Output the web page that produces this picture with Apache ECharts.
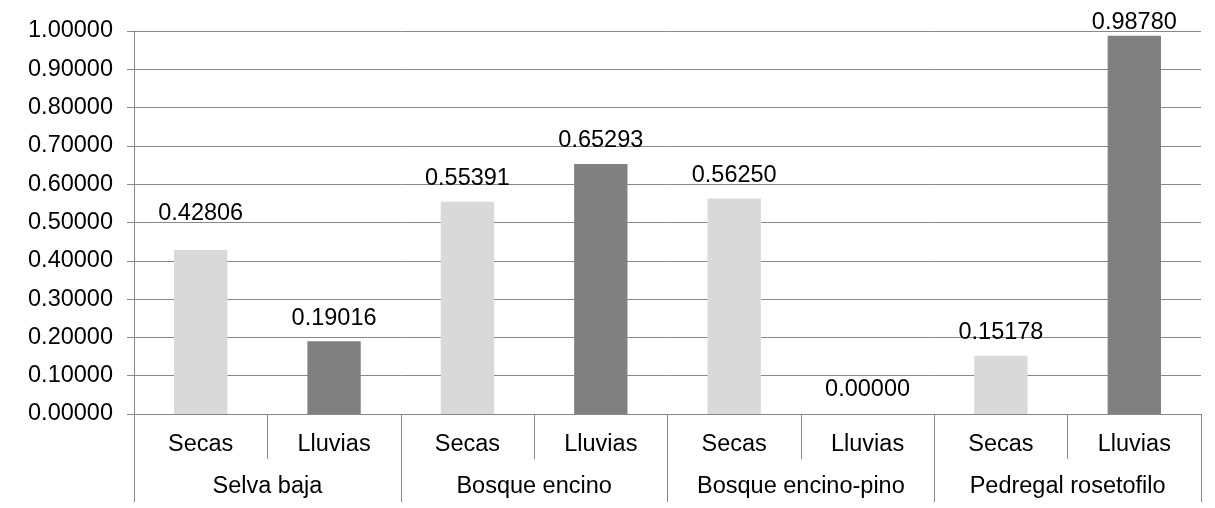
<!DOCTYPE html>
<html>
<head>
<meta charset="utf-8">
<script src="https://cdn.jsdelivr.net/npm/echarts@6/dist/echarts.min.js"></script>
<style>
  html, body { margin: 0; padding: 0; background: #fff; }
  #chart { width: 1215px; height: 508px; }
</style>
</head>
<body>
<div id="chart"></div>
<script>
// habitat groups and season labels
var habitats = ['Selva baja', 'Bosque encino', 'Bosque encino-pino', 'Pedregal rosetofilo'];
var seasons = ['Secas', 'Lluvias'];
// values per habitat
var secas = [0.42806, 0.55391, 0.56250, 0.15178];
var lluvias = [0.19016, 0.65293, 0.00000, 0.98780];
var yTicks = { min: 0, max: 1, interval: 0.1 };

var seasonColors = { Secas: '#d9d9d9', Lluvias: '#808080' };
var lineColor = '#888888';
var font = "'Liberation Sans', Arial, sans-serif";
var fs = 23.5;

// label gap above bar; the original moved two labels by hand
var secasGap = [25, 11, 11, 11];
var lluviasGap = [11, 11, 12, 1];

// flatten to the 8 bars (season within habitat)
var cats = [], vals = [];
habitats.forEach(function (h, i) {
  cats.push(seasons[0]);
  vals.push({ value: secas[i], itemStyle: { color: seasonColors.Secas }, label: { distance: secasGap[i] } });
  cats.push(seasons[1]);
  vals.push({ value: lluvias[i], itemStyle: { color: seasonColors.Lluvias }, label: { distance: lluviasGap[i] } });
});

var chart = echarts.init(document.getElementById('chart'));
chart.setOption({
  animation: false,
  textStyle: { fontFamily: font },
  grid: { left: 134, right: 14, top: 31, bottom: 94, containLabel: false },
  xAxis: [{
    type: 'category', data: cats, position: 'bottom',
    axisLine: { show: true, lineStyle: { color: lineColor, width: 1 } },
    axisTick: { show: true, interval: 0, length: 45, lineStyle: { color: lineColor } },
    axisLabel: { interval: 0, color: '#000', fontSize: fs, margin: 19 }
  }, {
    type: 'category', data: habitats, position: 'bottom',
    axisLine: { show: false },
    axisTick: { show: true, interval: 0, length: 88, lineStyle: { color: lineColor } },
    axisLabel: { interval: 0, color: '#000', fontSize: fs, margin: 61 }
  }],
  yAxis: {
    type: 'value', min: yTicks.min, max: yTicks.max, interval: yTicks.interval,
    axisLine: { show: true, lineStyle: { color: lineColor } },
    axisTick: { show: true, length: 7, lineStyle: { color: lineColor } },
    splitLine: { show: true, lineStyle: { color: lineColor, width: 1 } },
    axisLabel: { color: '#000', fontSize: fs, margin: 21,
      formatter: function (v) { return v.toFixed(5); } }
  },
  series: [{
    type: 'bar', xAxisIndex: 0, data: vals, barWidth: '40%',
    label: { show: true, position: 'top', color: '#000', fontSize: fs,
      formatter: function (p) { return p.value.toFixed(5); } }
  }]
});
</script>
</body>
</html>
